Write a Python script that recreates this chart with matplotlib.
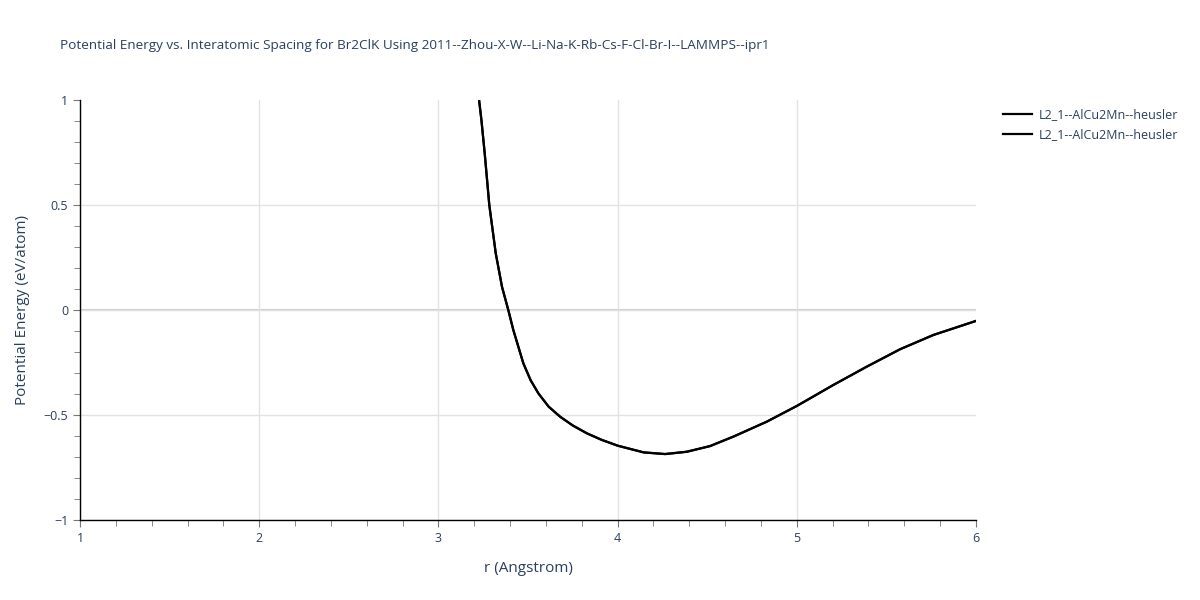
import numpy as np
import matplotlib
matplotlib.use("Agg")
import matplotlib.pyplot as plt
from matplotlib.ticker import MultipleLocator

plt.rcParams['font.family'] = ['Open Sans', 'DejaVu Sans']

# values
r = [3.227, 3.24, 3.258, 3.284, 3.32, 3.355, 3.39, 3.418, 3.474, 3.515,
     3.558, 3.615, 3.679, 3.75, 3.828, 3.91, 4.0, 4.145, 4.265, 4.386,
     4.516, 4.646, 4.832, 5.0, 5.204, 5.39, 5.576, 5.762, 6.0]
energy = [1.0, 0.905, 0.75, 0.5, 0.27, 0.11, 0.0, -0.095, -0.254, -0.335,
          -0.397, -0.46, -0.508, -0.55, -0.587, -0.618, -0.646, -0.678, -0.686, -0.675,
          -0.648, -0.603, -0.532, -0.457, -0.357, -0.27, -0.187, -0.119, -0.052]
labels = ['L2_1--AlCu2Mn--heusler', 'L2_1--AlCu2Mn--heusler']
xticks = [1, 2, 3, 4, 5, 6]
yticks = [-1, -0.5, 0, 0.5, 1]
ytick_labels = ['\u22121', '\u22120.5', '0', '0.5', '1']

txt = '#2a3f5f'
fig = plt.figure(figsize=(12, 6), dpi=100)
ax = fig.add_axes([80/1200, 80/600, 896/1200, 420/600])

for lab in labels:
    ax.plot(r, energy, color='black', linewidth=1.6, label=lab, zorder=3,
            solid_joinstyle='round')

ax.set_xlim(1, 6)
ax.set_ylim(-1, 1)
ax.set_xticks(xticks)
ax.set_yticks(yticks)
ax.set_yticklabels(ytick_labels)
ax.xaxis.set_minor_locator(MultipleLocator(0.2))
ax.yaxis.set_minor_locator(MultipleLocator(0.1))

ax.grid(True, which='major', color='#e2e2e2', linewidth=1)
# no grid line on the upper / right edge
ax.xaxis.get_major_ticks()[-1].gridline.set_visible(False)
ax.yaxis.get_major_ticks()[-1].gridline.set_visible(False)
ax.axhline(0, color='#cccccc', linewidth=1.5, zorder=1)
for s in ['top', 'right']:
    ax.spines[s].set_visible(False)
for s in ['left', 'bottom']:
    ax.spines[s].set_color('black')
    ax.spines[s].set_linewidth(1)

ax.tick_params(axis='both', which='major', direction='out', length=5,
               color='#777777', labelcolor=txt, labelsize=9)
ax.tick_params(axis='both', which='minor', direction='out', length=4, color='#777777')

ax.set_xlabel('r (Angstrom)', fontsize=11, color=txt, labelpad=12)
ax.set_ylabel('Potential Energy (eV/atom)', fontsize=11, color=txt, labelpad=10)

fig.text(60/1200, 1 - 45/600, 'Potential Energy vs. Interatomic Spacing for Br2ClK Using 2011--Zhou-X-W--Li-Na-K-Rb-Cs-F-Cl-Br-I--LAMMPS--ipr1',
         fontsize=9.7, color=txt, va='center', ha='left')

fig.legend(loc='upper left', bbox_to_anchor=(998/1200, 1 - 103/600), frameon=False,
           fontsize=9, labelcolor=txt, handlelength=2.3, borderaxespad=0,
           handletextpad=0.6, labelspacing=0.55)

fig.savefig('out.png', dpi=100)
